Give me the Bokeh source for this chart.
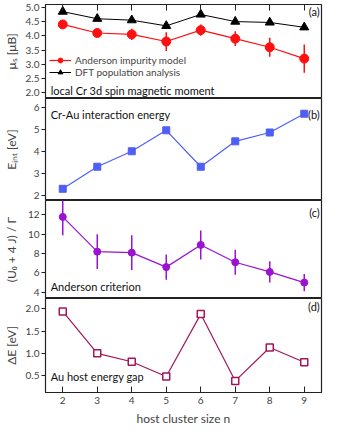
from bokeh.plotting import figure
from bokeh.models import Range1d, FixedTicker, Label, LinearAxis, NumeralTickFormatter
from bokeh.layouts import column
from bokeh.embed import file_html
from bokeh.resources import INLINE

# ---- data ----
n = [2, 3, 4, 5, 6, 7, 8, 9]
mu_anderson = [4.4, 4.1, 4.05, 3.8, 4.2, 3.9, 3.6, 3.2]
mu_anderson_err = [0.05, 0.15, 0.2, 0.33, 0.2, 0.26, 0.33, 0.5]
mu_dft = [4.85, 4.6, 4.55, 4.35, 4.75, 4.5, 4.47, 4.3]
e_int = [2.3, 3.3, 4.0, 4.95, 3.3, 4.45, 4.85, 5.7]
anderson_crit = [11.8, 8.2, 8.1, 6.6, 8.9, 7.1, 6.1, 5.0]
anderson_crit_err = [1.9, 1.8, 1.8, 1.3, 1.5, 1.3, 1.1, 0.9]
gap = [1.94, 1.0, 0.81, 0.48, 1.88, 0.38, 1.13, 0.8]

x_ticks = [2, 3, 4, 5, 6, 7, 8, 9]
a_ticks = [2.0, 2.5, 3.0, 3.5, 4.0, 4.5, 5.0]
b_ticks = [2, 3, 4, 5, 6]
c_ticks = [4, 6, 8, 10, 12]
d_ticks = [0.5, 1.0, 1.5, 2.0]

FONT = "Lato"
W = 323
LEFT = 40
RIGHT = 2

xr = Range1d(1.5, 9.5)


def make_fig(h, ylo, yhi, ticks, ylabel, standoff, fmt=None, top=0, bottom=0, xloc=None):
    p = figure(width=W, height=h, x_range=xr, y_range=Range1d(ylo, yhi),
               output_backend="svg", toolbar_location=None,
               x_axis_location=xloc, min_border_left=LEFT, min_border_right=RIGHT,
               min_border_top=top, min_border_bottom=bottom)
    p.grid.visible = False
    p.outline_line_color = "#222222"
    p.outline_line_width = 1.2
    p.background_fill_color = "white"
    p.border_fill_color = "white"
    ax = p.yaxis[0]
    ax.ticker = FixedTicker(ticks=ticks)
    if fmt:
        ax.formatter = NumeralTickFormatter(format=fmt)
    ax.major_tick_in = 0
    ax.major_tick_out = 4
    ax.minor_tick_line_color = None
    ax.axis_line_color = "#222222"
    ax.major_tick_line_color = "#222222"
    ax.major_label_text_font = FONT
    ax.major_label_text_font_size = "10px"
    ax.major_label_standoff = 2
    ax.axis_label = ylabel
    ax.axis_label_text_font = FONT
    ax.axis_label_text_font_size = "12px"
    ax.axis_label_text_font_style = "normal"
    ax.axis_label_standoff = standoff
    return p


def label(p, x, y, text, align="left", baseline="bottom", size="11px"):
    p.add_layout(Label(x=x, y=y, text=text, text_align=align, text_baseline=baseline,
                       text_font=FONT, text_font_size=size, text_color="#111111"))


# ---- panel (a) ----
pa = make_fig(98, 1.8, 5.1, a_ticks, "μₛ [μB]", 4, fmt="0.0", top=4)
top_axis = LinearAxis(ticker=FixedTicker(ticks=x_ticks), major_tick_in=6, major_tick_out=0,
                      minor_tick_line_color=None, axis_line_color=None,
                      major_label_overrides={t: "" for t in x_ticks},
                      major_label_standoff=0, major_label_text_font_size="10px",
                      major_tick_line_color="#222222")
pa.add_layout(top_axis, "above")
red = "#ff1010"
pa.segment(x0=n, y0=[m - e for m, e in zip(mu_anderson, mu_anderson_err)],
           x1=n, y1=[m + e for m, e in zip(mu_anderson, mu_anderson_err)],
           line_color=red, line_width=1.5)
pa.line(n, mu_anderson, line_color=red, line_width=1.2, legend_label="Anderson impurity model")
pa.scatter(n, mu_anderson, marker="circle", size=9, color=red, legend_label="Anderson impurity model")
pa.line(n, mu_dft, line_color="black", line_width=1.0, legend_label="DFT population analysis")
pa.scatter(n, mu_dft, marker="triangle", size=9, color="black", legend_label="DFT population analysis")
lg = pa.legend[0]
lg.location = (4, 20)
lg.background_fill_alpha = 0
lg.border_line_color = None
lg.label_text_font = FONT
lg.label_text_font_size = "10px"
lg.glyph_width = 22
lg.glyph_height = 12
lg.label_height = 12
lg.spacing = 0
lg.padding = 0
lg.margin = 0
lg.label_standoff = 4
label(pa, 9.45, 5.08, "(a)", align="right", baseline="top")
label(pa, 1.65, 1.86, "local Cr 3d spin magnetic moment")

# ---- panel (b) ----
pb = make_fig(102, 1.77, 6.39, b_ticks, "Eᵢₙₜ [eV]", 12)
blue = "#4f5ff5"
pb.line(n, e_int, line_color=blue, line_width=1.2)
pb.scatter(n, e_int, marker="square", size=7, color=blue)
label(pb, 9.45, 5.95, "(b)", align="right", baseline="top")
label(pb, 1.65, 5.95, "Cr-Au interaction energy", baseline="top")

# ---- panel (c) ----
pc = make_fig(98, 3.35, 13.5, c_ticks, "(U₀ + 4 J) / Γ", 6)
purple = "#9a12d2"
pc.segment(x0=n, y0=[m - e for m, e in zip(anderson_crit, anderson_crit_err)],
           x1=n, y1=[m + e for m, e in zip(anderson_crit, anderson_crit_err)],
           line_color=purple, line_width=1.5)
pc.line(n, anderson_crit, line_color=purple, line_width=1.2)
pc.scatter(n, anderson_crit, marker="circle", size=7, color=purple)
label(pc, 9.45, 12.9, "(c)", align="right", baseline="top")
label(pc, 1.65, 3.95, "Anderson criterion")

# ---- panel (d) ----
pd_ = make_fig(130, 0.12, 2.23, d_ticks, "ΔE [eV]", 4, fmt="0.0", bottom=33, xloc="below")
xa = pd_.xaxis[0]
xa.ticker = FixedTicker(ticks=x_ticks)
xa.major_tick_in = 6
xa.major_tick_out = 0
xa.minor_tick_line_color = None
xa.axis_line_color = "#222222"
xa.major_tick_line_color = "#222222"
xa.major_label_text_font = FONT
xa.major_label_text_font_size = "10px"
xa.major_label_standoff = 4
xa.axis_label = "host cluster size n"
xa.axis_label_text_font = FONT
xa.axis_label_text_font_size = "12px"
xa.axis_label_text_font_style = "normal"
xa.axis_label_standoff = 4
mag = "#a3175a"
pd_.line(n, gap, line_color=mag, line_width=1.2)
pd_.scatter(n, gap, marker="square", size=7, line_color=mag, fill_color="white", line_width=1.5)
label(pd_, 9.45, 2.2, "(d)", align="right", baseline="top")
label(pd_, 1.65, 0.33, "Au host energy gap")

layout = column(pa, pb, pc, pd_, spacing=0)
open("out.html", "w").write(file_html(layout, INLINE))
